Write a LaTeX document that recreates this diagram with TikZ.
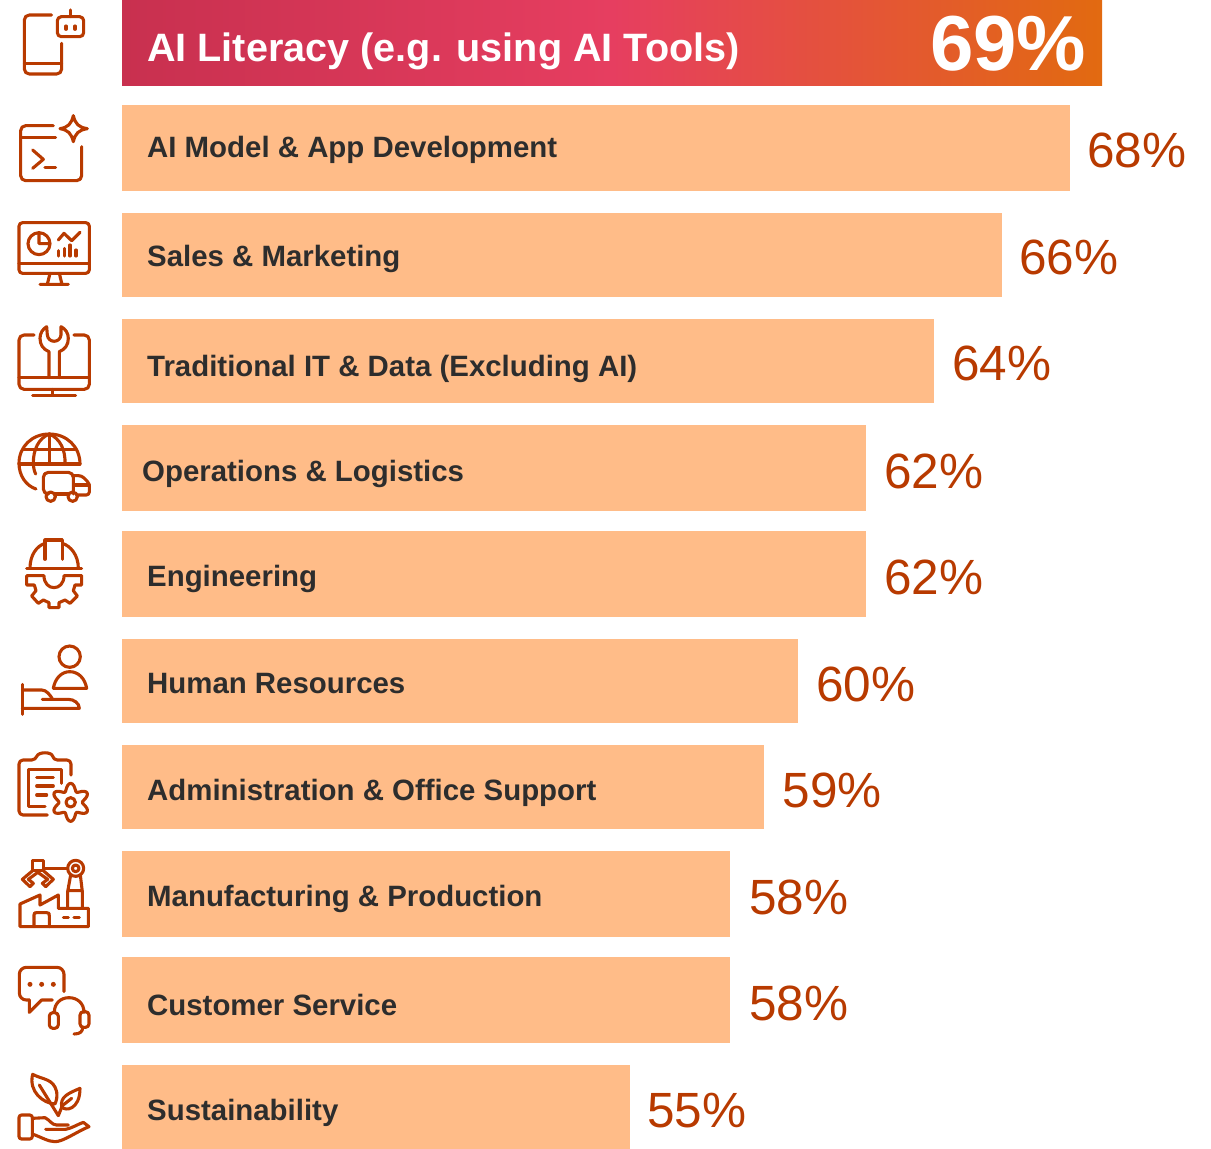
\documentclass[tikz,border=0pt]{standalone}
\usepackage{fontspec}
\setmainfont{Liberation Sans}
\definecolor{barfill}{HTML}{FFBC88}
\definecolor{pct}{HTML}{B83A00}
\definecolor{lab}{HTML}{2D2D2D}
\definecolor{gradA}{HTML}{C8304F}
\definecolor{gradB}{HTML}{E63E60}
\definecolor{gradC}{HTML}{E26A10}
\pgfdeclarehorizontalshading{headshade}{100bp}{
 color(0bp)=(gradA); color(25bp)=(gradA); color(50bp)=(gradB); color(75bp)=(gradC); color(100bp)=(gradC)}
\tikzset{
 barbox/.style={anchor=north west,inner sep=0pt,outer sep=0pt,fill=barfill,minimum width=#1},
 barlabel/.style={anchor=base west,inner sep=0pt,text=lab,font=\fontsize{29.4}{30}\selectfont\bfseries},
 pctlabel/.style={anchor=base west,inner sep=0pt,text=pct,font=\fontsize{49.5}{50}\selectfont},
 icon/.style={x=0.33333pt,y=-0.33333pt,draw=pct,line width=3.1pt,line cap=round,line join=round,rounded corners=5pt},
 iconsharp/.style={rounded corners=0pt},
}
\begin{document}
\begin{tikzpicture}[x=1pt,y=-1pt]
\useasboundingbox (0,0) rectangle (1211,1149);
% header
\node[anchor=north west,inner sep=0pt,outer sep=0pt,minimum width=980pt,minimum height=85pt,shading=headshade] (b0) at (122,0) {};
\node[anchor=base west,inner sep=0pt,text=white,font=\fontsize{39.6}{40}\selectfont\bfseries] (l0) at (147,61) {AI Literacy (e.g. using AI Tools)};
\node[anchor=base west,inner sep=0pt,text=white,font=\fontsize{78}{78}\selectfont\bfseries] (p0) at (930,70.5) {69\%};
% bars
\node[barbox=948pt,minimum height=86pt] (b1) at (122,105) {};
\node[barbox=880pt,minimum height=84pt] (b2) at (122,213) {};
\node[barbox=812pt,minimum height=84pt] (b3) at (122,319) {};
\node[barbox=744pt,minimum height=86pt] (b4) at (122,425) {};
\node[barbox=744pt,minimum height=86pt] (b5) at (122,531) {};
\node[barbox=676pt,minimum height=84pt] (b6) at (122,639) {};
\node[barbox=642pt,minimum height=84pt] (b7) at (122,745) {};
\node[barbox=608pt,minimum height=86pt] (b8) at (122,851) {};
\node[barbox=608pt,minimum height=86pt] (b9) at (122,957) {};
\node[barbox=508pt,minimum height=84pt] (b10) at (122,1065) {};
% labels
\node[barlabel] (l1) at (147,157) {AI Model \& App Development};
\node[barlabel] (l2) at (147,266) {Sales \& Marketing};
\node[barlabel] (l3) at (147,376) {Traditional IT \& Data (Excluding AI)};
\node[barlabel] (l4) at (142,481) {Operations \& Logistics};
\node[barlabel] (l5) at (147,586) {Engineering};
\node[barlabel] (l6) at (147,693) {Human Resources};
\node[barlabel] (l7) at (147,800) {Administration \& Office Support};
\node[barlabel] (l8) at (147,906) {Manufacturing \& Production};
\node[barlabel] (l9) at (147,1015) {Customer Service};
\node[barlabel] (l10) at (147,1120) {Sustainability};
% percents
\node[pctlabel] (p1) at (1087,167) {68\%};
\node[pctlabel] (p2) at (1019,274) {66\%};
\node[pctlabel] (p3) at (952,380) {64\%};
\node[pctlabel] (p4) at (884,488) {62\%};
\node[pctlabel] (p5) at (884,594) {62\%};
\node[pctlabel] (p6) at (816,701) {60\%};
\node[pctlabel] (p7) at (782.5,807) {59\%};
\node[pctlabel] (p8) at (749,914) {58\%};
\node[pctlabel] (p9) at (749,1020) {58\%};
\node[pctlabel] (p10) at (647,1127) {55\%};
% icon 0/1/2
\begin{scope}[icon]
\draw (155,45)--(73,45)--(73,222)--(185,222)--(185,130);
\draw (73,190)--(185,190);
\draw[rounded corners=4pt] (172,50) rectangle (251,110);
\draw (211,30)--(211,50);
\draw (198,78)--(198,88) (225,78)--(225,88);
\draw (160,377)--(62,377)--(62,542)--(245,542)--(245,440);
\draw (62,413)--(167,413);
\draw[iconsharp] (98,450)--(130,478)--(98,505);
\draw (135,503)--(167,503);
\draw[iconsharp] (220,347) .. controls (226,372) and (236,382) .. (262,386) .. controls (236,390) and (226,400) .. (220,425) .. controls (214,400) and (204,390) .. (180,386) .. controls (204,382) and (214,372) .. (220,347) -- cycle;
\draw[rounded corners=3.5pt] (57,668) rectangle (268,820);
\draw[iconsharp] (57,790)--(268,790);
\draw[iconsharp] (150,820)--(142,853) (178,820)--(186,853) (120,853)--(205,853);
\draw[iconsharp] (117,698) .. controls (135,698) and (150,713) .. (150,731) .. controls (150,749) and (135,764) .. (117,764) .. controls (99,764) and (84,749) .. (84,731) .. controls (84,713) and (99,698) .. (117,698) -- (117,731) -- (150,731);
\draw[iconsharp] (175,720)--(192,700)--(215,722)--(240,697);
\draw[iconsharp] (175,752)--(175,768) (193,745)--(193,768) (210,735)--(210,768) (228,750)--(228,768);
\end{scope}
% icons 3-5
\begin{scope}[icon,yshift=-310pt]
\draw (102,75)--(57,75)--(57,238)--(268,238)--(268,75)--(222,75);
\draw[iconsharp] (57,203)--(268,203) (157,238)--(157,256) (98,256)--(227,256);
\draw[iconsharp] (147,203)--(147,125) .. controls (130,118) and (120,105) .. (120,85) .. controls (120,70) and (128,57) .. (140,50) -- (142,75) .. controls (145,100) and (180,100) .. (183,75) -- (183,50) .. controls (197,57) and (205,70) .. (205,85) .. controls (205,105) and (195,118) .. (178,125) -- (178,203);
\draw[iconsharp] (240,462) .. controls (240,410) and (200,372) .. (148,372) .. controls (96,372) and (57,410) .. (57,460) .. controls (57,497) and (78,527) .. (108,537);
\draw[iconsharp] (148,372)--(148,462);
\draw[iconsharp] (148,372) .. controls (115,385) and (100,420) .. (100,458) .. controls (100,470) and (102,482) .. (107,492);
\draw[iconsharp] (148,372) .. controls (180,385) and (197,420) .. (195,462);
\draw[iconsharp] (70,418)--(225,418) (57,462)--(240,462);
\draw (138,552)--(130,552)--(130,487)--(220,487)--(220,552);
\draw[iconsharp] (166,552)--(204,552);
\draw[rounded corners=3pt] (220,497)--(245,497)--(268,520)--(268,555)--(232,555);
\draw[iconsharp] (225,525)--(268,525);
\draw[iconsharp] (152,560) circle[radius=14] (218,560) circle[radius=14];
\draw[iconsharp] (80,775)--(245,775);
\draw[iconsharp] (90,775) .. controls (90,735) and (110,708) .. (135,700) (235,775) .. controls (235,735) and (212,708) .. (187,700);
\draw[iconsharp] (135,748)--(135,690)--(187,690)--(187,748);
\draw[iconsharp] (80,797)--(80,825)--(103,825)--(108,842)--(95,858)--(115,880)--(130,870)--(147,878)--(147,893)--(177,893)--(177,878)--(195,870)--(210,880)--(232,858)--(220,842)--(225,825)--(245,825)--(245,797)--(192,797) .. controls (192,845) and (132,845) .. (132,797) -- cycle;
\end{scope}
% icons 6-8
\begin{scope}[icon,iconsharp,yshift=-630pt]
\draw (209,80) circle[radius=32];
\draw (160,175)--(260,175) .. controls (255,145) and (235,125) .. (209,125) .. controls (185,125) and (165,145) .. (160,175);
\draw (67,163)--(67,253);
\draw (67,180)--(125,180) .. controls (140,180) and (150,195) .. (158,208);
\draw (127,208)--(205,208) .. controls (222,208) and (238,220) .. (238,235) -- (67,235);
\draw[rounded corners=4pt] (213,435)--(213,390)--(160,390) .. controls (155,365) and (115,365) .. (107,390) --(57,390)--(57,555)--(142,555);
\draw (185,460)--(185,418)--(85,418)--(85,530)--(135,530);
\draw (110,442)--(160,442) (110,468)--(160,468) (110,495)--(140,495);
\draw (212,517) circle[radius=14];
\draw plot[domain=0:360,samples=73,smooth] ({212+(46-11*cos(6*\x))*cos(\x)},{517+(46-11*cos(6*\x))*sin(\x)});
\draw (60,822)--(60,890)--(265,890)--(265,835)--(175,835)--(175,795)--(120,825)--(120,795)--cycle;
\draw (102,890)--(102,855) .. controls (102,848) and (105,848) .. (110,848) -- (140,848) .. controls (148,848) and (148,850) .. (148,858) -- (148,890);
\draw (190,862)--(205,862) (222,862)--(238,862);
\draw (203,835)--(203,785)--(212,735) (247,835)--(247,785)--(241,735) (203,782)--(247,782);
\draw (227,715) circle[radius=24] (227,715) circle[radius=10];
\draw (130,715)--(203,715);
\draw (98,692) rectangle (130,722);
\draw (98,722)--(67,748)--(90,770)--(100,760)--(85,748)--(112,728);
\draw (130,722)--(160,748)--(137,770)--(127,760)--(143,748)--(115,728);
\end{scope}
% icons 9-10
\begin{scope}[icon,yshift=-950pt]
\draw[rounded corners=7pt] (192,125)--(192,52)--(58,52)--(58,150)--(88,150);
\draw[iconsharp] (88,150)--(88,187)--(125,150)--(157,150);
\fill[pct] (90,103) circle[radius=7.5] (125,103) circle[radius=7.5] (160,103) circle[radius=7.5];
\draw[iconsharp] (163,187) .. controls (163,160) and (182,143) .. (207,143) .. controls (232,143) and (252,160) .. (252,187);
\draw[rounded corners=3.5pt] (148,188) rectangle (175,235);
\draw[rounded corners=3.5pt] (240,185) rectangle (267,232);
\draw[iconsharp] (248,232) .. controls (248,245) and (240,252) .. (222,252);
\draw[iconsharp] (98,373) .. controls (130,390) and (160,385) .. (170,425) .. controls (172,440) and (170,450) .. (165,462) .. controls (130,460) and (85,425) .. (98,373) -- cycle;
\draw[iconsharp] (118,405)--(175,497);
\draw[iconsharp] (240,415) .. controls (205,430) and (180,440) .. (185,470) .. controls (195,485) and (240,480) .. (240,415) -- cycle;
\draw[iconsharp] (175,497) -- (187,467) -- (215,445);
\draw[rounded corners=2.5pt] (57,495) rectangle (97,567);
\draw[iconsharp] (97,505)--(135,503) .. controls (150,510) and (155,525) .. (170,525) -- (205,525);
\draw[iconsharp] (137,538)--(197,538) .. controls (215,535) and (235,522) .. (250,517) -- (267,530) .. controls (230,545) and (190,575) .. (165,575) .. controls (145,575) and (125,562) .. (97,552);
\end{scope}
\end{tikzpicture}
\end{document}
